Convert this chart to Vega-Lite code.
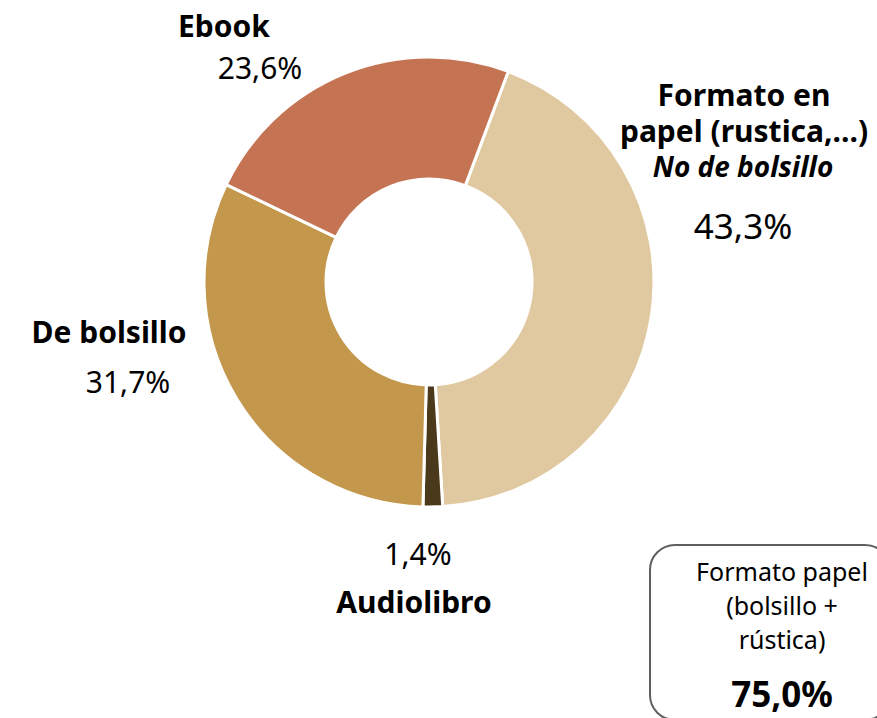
{
  "$schema": "https://vega.github.io/schema/vega-lite/v6.json",
  "background": "white",
  "padding": 0,
  "autosize": {"type": "pad"},
  "bounds": "flush",
  "spacing": 0,
  "config": {"view": {"stroke": null}, "font": "Noto Sans", "text": {"color": "#000000"}},
  "datasets": {
    "formatos": [
      {"formato": "Formato en papel (rustica,...)", "etiqueta": "Formato en\npapel (rustica,...)", "nota": "No de bolsillo", "pct": "43,3%", "value": 43.3, "ord": 1},
      {"formato": "Audiolibro", "etiqueta": "Audiolibro", "nota": "", "pct": "1,4%", "value": 1.4, "ord": 2},
      {"formato": "De bolsillo", "etiqueta": "De bolsillo", "nota": "", "pct": "31,7%", "value": 31.7, "ord": 3},
      {"formato": "Ebook", "etiqueta": "Ebook", "nota": "", "pct": "23,6%", "value": 23.6, "ord": 4}
    ],
    "resumen": [{"texto": "Formato papel\n(bolsillo +\nrústica)", "total": "75,0%"}]
  },
  "vconcat": [
    {
      "width": 10,
      "height": 19,
      "data": {"values": [{}]},
      "mark": {"type": "text"},
      "encoding": {"text": {"value": ""}}
    },
    {
      "width": 858,
      "height": 526,
      "data": {"name": "formatos"},
      "encoding": {
        "theta": {"field": "value", "type": "quantitative", "stack": true, "scale": {"range": [0.36, 6.6432]}},
        "order": {"field": "ord", "type": "quantitative"}
      },
      "layer": [
        {
          "mark": {"type": "arc", "outerRadius": 225, "innerRadius": 103, "stroke": "white", "strokeWidth": 3},
          "encoding": {
            "color": {"field": "formato", "type": "nominal", "legend": null,
              "scale": {"domain": ["Formato en papel (rustica,...)", "Audiolibro", "De bolsillo", "Ebook"],
                        "range": ["#E0C9A1", "#4A391B", "#C4984C", "#C47452"]}}
          }
        },
        {
          "mark": {"type": "text", "radius": 0, "dx": -205, "dy": -254, "fontSize": 30, "fontWeight": "bold"},
          "encoding": {"text": {"condition": {"test": "datum.formato === 'Ebook'", "field": "etiqueta"}, "value": ""}}
        },
        {
          "mark": {"type": "text", "radius": 0, "dx": -169, "dy": -212, "fontSize": 30},
          "encoding": {"text": {"condition": {"test": "datum.formato === 'Ebook'", "field": "pct"}, "value": ""}}
        },
        {
          "mark": {"type": "text", "radius": 0, "dx": 315, "dy": -185, "fontSize": 30, "fontWeight": "bold", "lineBreak": "\n", "lineHeight": 36},
          "encoding": {"text": {"condition": {"test": "datum.ord === 1", "field": "etiqueta"}, "value": ""}}
        },
        {
          "mark": {"type": "text", "radius": 0, "dx": 314, "dy": -113, "fontSize": 28, "fontWeight": "bold", "fontStyle": "italic"},
          "encoding": {"text": {"condition": {"test": "datum.ord === 1", "field": "nota"}, "value": ""}}
        },
        {
          "mark": {"type": "text", "radius": 0, "dx": 314, "dy": -54, "fontSize": 35},
          "encoding": {"text": {"condition": {"test": "datum.ord === 1", "field": "pct"}, "value": ""}}
        },
        {
          "mark": {"type": "text", "radius": 0, "dx": -11, "dy": 274, "fontSize": 30},
          "encoding": {"text": {"condition": {"test": "datum.formato === 'Audiolibro'", "field": "pct"}, "value": ""}}
        },
        {
          "mark": {"type": "text", "radius": 0, "dx": -15, "dy": 322, "fontSize": 30, "fontWeight": "bold"},
          "encoding": {"text": {"condition": {"test": "datum.formato === 'Audiolibro'", "field": "etiqueta"}, "value": ""}}
        },
        {
          "mark": {"type": "text", "radius": 0, "dx": -320, "dy": 52, "fontSize": 30, "fontWeight": "bold"},
          "encoding": {"text": {"condition": {"test": "datum.formato === 'De bolsillo'", "field": "etiqueta"}, "value": ""}}
        },
        {
          "mark": {"type": "text", "radius": 0, "dx": -301, "dy": 102, "fontSize": 30},
          "encoding": {"text": {"condition": {"test": "datum.formato === 'De bolsillo'", "field": "pct"}, "value": ""}}
        }
      ]
    },
    {
      "spacing": 0,
      "hconcat": [
        {
          "width": 649,
          "height": 175,
          "data": {"values": [{}]},
          "mark": {"type": "text"},
          "encoding": {"text": {"value": ""}}
        },
        {
          "width": 240,
          "height": 175,
          "view": {"stroke": "#5f5f5f", "strokeWidth": 2, "cornerRadius": 25},
          "data": {"name": "resumen"},
          "layer": [
            {
              "mark": {"type": "text", "dx": 12, "dy": -60, "fontSize": 25, "lineBreak": "\n", "lineHeight": 34},
              "encoding": {"text": {"field": "texto"}}
            },
            {
              "mark": {"type": "text", "dx": 12, "dy": 63, "fontSize": 35, "fontWeight": "bold"},
              "encoding": {"text": {"field": "total"}}
            }
          ]
        }
      ]
    }
  ]
}
